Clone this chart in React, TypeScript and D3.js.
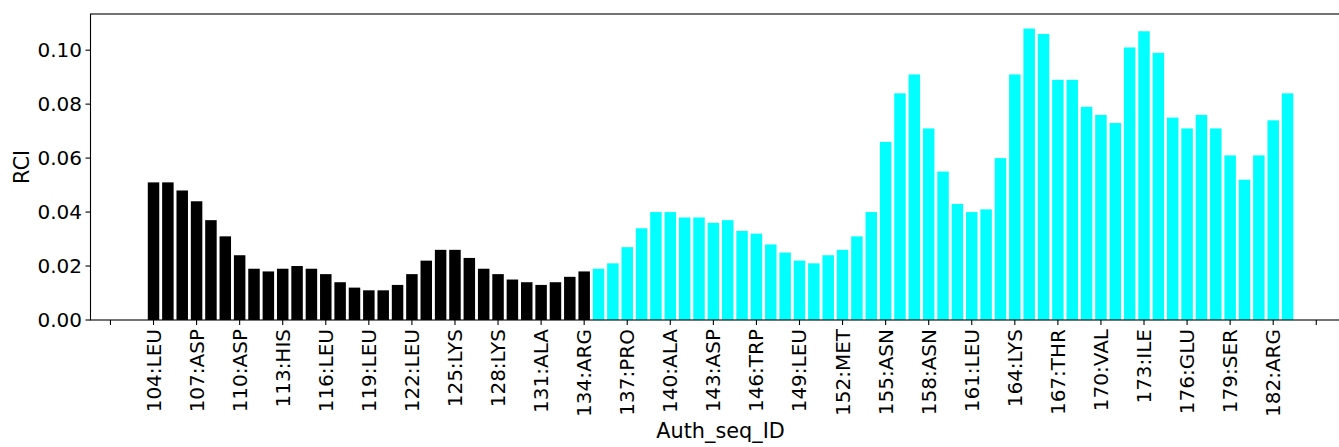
import React from "react";
import * as d3 from "d3";

const residueIds: number[] = d3.range(104, 184);
const rciValues: number[] = [
  0.051, 0.051, 0.048, 0.044, 0.037, 0.031, 0.024, 0.019, 0.018, 0.019,
  0.020, 0.019, 0.017, 0.014, 0.012, 0.011, 0.011, 0.013, 0.017, 0.022,
  0.026, 0.026, 0.023, 0.019, 0.017, 0.015, 0.014, 0.013, 0.014, 0.016,
  0.018, 0.019, 0.021, 0.027, 0.034, 0.040, 0.040, 0.038, 0.038, 0.036,
  0.037, 0.033, 0.032, 0.028, 0.025, 0.022, 0.021, 0.024, 0.026, 0.031,
  0.040, 0.066, 0.084, 0.091, 0.071, 0.055, 0.043, 0.040, 0.041, 0.060,
  0.091, 0.108, 0.106, 0.089, 0.089, 0.079, 0.076, 0.073, 0.101, 0.107,
  0.099, 0.075, 0.071, 0.076, 0.071, 0.061, 0.052, 0.061, 0.074, 0.084,
];
const lastBlackId = 134;
const tickIds: number[] = [101, 104, 107, 110, 113, 116, 119, 122, 125, 128, 131, 134, 137, 140, 143, 146, 149, 152, 155, 158, 161, 164, 167, 170, 173, 176, 179, 182, 185];
const tickLabels: string[] = [
  "", "104:LEU", "107:ASP", "110:ASP", "113:HIS", "116:LEU", "119:LEU", "122:LEU",
  "125:LYS", "128:LYS", "131:ALA", "134:ARG", "137:PRO", "140:ALA", "143:ASP",
  "146:TRP", "149:LEU", "152:MET", "155:ASN", "158:ASN", "161:LEU", "164:LYS",
  "167:THR", "170:VAL", "173:ILE", "176:GLU", "179:SER", "182:ARG", "",
];
const yTicks: number[] = [0, 0.02, 0.04, 0.06, 0.08, 0.1];

const W = 1339;
const H = 447;
const left = 90.5;
const top = 14;
const bottom = 320;
const barW = 0.8;

export default function App() {
  const xMin = residueIds[0] - barW / 2;
  const xMax = residueIds[residueIds.length - 1] + barW / 2;
  const xm = (xMax - xMin) * 0.05;
  const xDomain: [number, number] = [xMin - xm, xMax + xm];
  const right = left + (xDomain[1] - xDomain[0]) * 14.355;
  const x = d3.scaleLinear().domain(xDomain).range([left, right]);
  const yMax = (d3.max(rciValues) as number) * 1.05;
  const y = d3.scaleLinear().domain([0, yMax]).range([bottom, top]);
  const font = "'DejaVu Sans', sans-serif";
  const fs = 20;
  const lfs = 20.8;

  return (
    <svg width={W} height={H} style={{ position: "absolute", left: 0, top: 0, background: "#fff" }} fontFamily={font}>
      <rect x={0} y={0} width={W} height={H} fill="#fff" />
      {residueIds.map((id, i) => {
        const x0 = x(id - barW / 2);
        const x1 = x(id + barW / 2);
        return (
          <rect
            key={id}
            x={x0}
            y={y(rciValues[i])}
            width={x1 - x0}
            height={y(0) - y(rciValues[i])}
            fill={id <= lastBlackId ? "#000000" : "#00ffff"}
          />
        );
      })}
      <rect x={left} y={top} width={right - left} height={bottom - top} fill="none" stroke="#000" strokeWidth={1.1} />
      {yTicks.map((t) => (
        <g key={t}>
          <line x1={left - 5} x2={left} y1={y(t)} y2={y(t)} stroke="#000" strokeWidth={1.1} />
          <text x={left - 8.5} y={y(t)} textAnchor="end" dominantBaseline="central" fontSize={fs} fill="#000">
            {t.toFixed(2)}
          </text>
        </g>
      ))}
      {tickIds.map((t, i) => (
        <g key={t}>
          <line x1={x(t)} x2={x(t)} y1={bottom} y2={bottom + 5} stroke="#000" strokeWidth={1.1} />
          <text
            transform={`translate(${x(t)},${bottom + 9}) rotate(-90)`}
            textAnchor="end"
            dominantBaseline="central"
            fontSize={fs}
            fill="#000"
          >
            {tickLabels[i]}
          </text>
        </g>
      ))}
      <text x={(left + right) / 2} y={438} textAnchor="middle" fontSize={lfs} fill="#000">
        Auth_seq_ID
      </text>
      <text
        transform={`translate(28.5,${(top + bottom) / 2}) rotate(-90)`}
        textAnchor="middle"
        fontSize={lfs}
        fill="#000"
      >
        RCI
      </text>
    </svg>
  );
}
